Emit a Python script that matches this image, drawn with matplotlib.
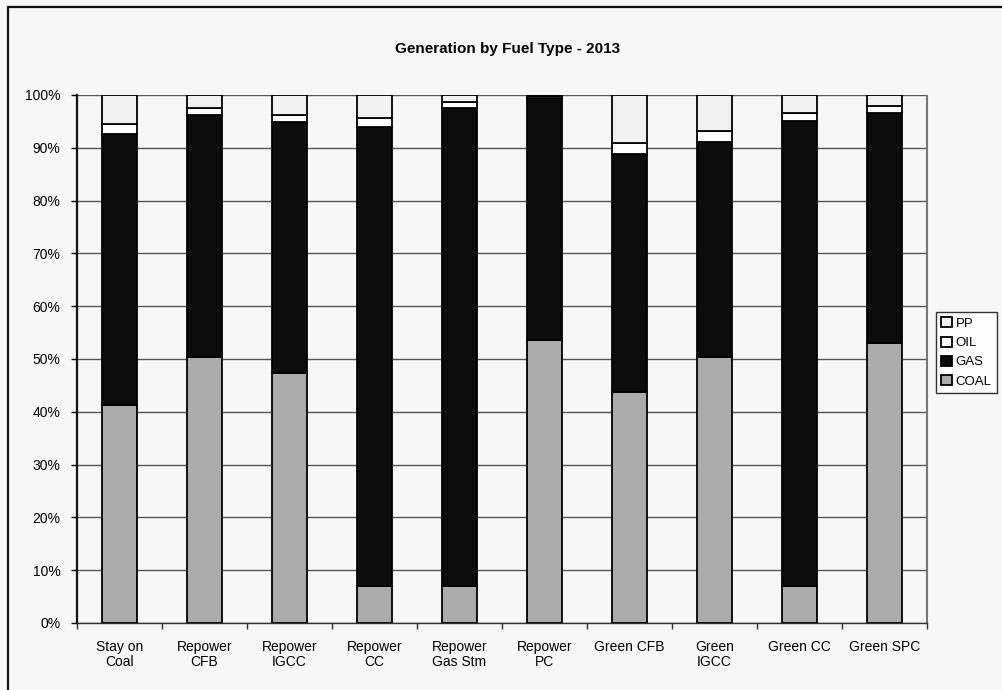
import matplotlib
matplotlib.use("Agg")
import matplotlib.pyplot as plt
from matplotlib.lines import Line2D
from matplotlib.ticker import FixedLocator, FuncFormatter
import numpy as np

plt.rcParams['font.family'] = ['Liberation Sans', 'DejaVu Sans']

# Scenarios and generation shares (%) by fuel type, 2013
categories = ["Stay on\nCoal", "Repower\nCFB", "Repower\nIGCC", "Repower\nCC",
              "Repower\nGas Stm", "Repower\nPC", "Green CFB", "Green\nIGCC",
              "Green CC", "Green SPC"]
coal = [41.3, 50.4, 47.4, 7.0, 7.0, 53.6, 43.8, 50.3, 7.0, 53.0]
gas = [51.3, 45.8, 47.4, 86.9, 90.5, 45.9, 45.0, 40.8, 88.0, 43.6]
oil = [1.9, 1.3, 1.5, 1.7, 1.2, 0.3, 2.2, 2.1, 1.5, 1.4]
pp = [5.5, 2.5, 3.7, 4.4, 1.3, 0.2, 9.0, 6.8, 3.5, 2.0]
y_ticks = list(range(0, 101, 10))

bg = '#f7f7f7'
fig = plt.figure(figsize=(10.02, 6.90), dpi=100, facecolor=bg)
ax = fig.add_axes([77 / 1002, 1 - 623 / 690, 850 / 1002, 528 / 690], facecolor=bg)

x = np.arange(len(categories))
w = 0.41
series = [("COAL", coal, '#ababab'), ("GAS", gas, '#0c0c0c'),
          ("OIL", oil, '#ffffff'), ("PP", pp, '#f1f1f1')]
bottom = np.zeros(len(categories))
handles = {}
for name, vals, col in series:
    vals = np.array(vals)
    bars = ax.bar(x, vals, w, bottom=bottom, color=col, edgecolor='black',
                  linewidth=1.3, zorder=3, label=name)
    handles[name] = bars
    bottom += vals

ax.set_xlim(-0.5, len(categories) - 0.5)
ax.set_ylim(0, 100)
ax.yaxis.set_major_locator(FixedLocator(y_ticks))
ax.yaxis.set_major_formatter(FuncFormatter(lambda v, p: f"{int(v)}%"))
ax.grid(axis='y', color='#555555', linewidth=1.0, zorder=0)
ax.set_axisbelow(True)

ax.set_xticks(x)
ax.set_xticklabels(categories, fontsize=10, linespacing=1.1)
ax.set_xticks(np.arange(len(categories) + 1) - 0.5, minor=True)
ax.tick_params(axis='x', which='major', length=0, pad=12)
ax.tick_params(axis='x', which='minor', length=4, width=1, direction='out', color='#333333')
ax.tick_params(axis='y', length=4, width=1, direction='out', labelsize=10, pad=8)

ax.spines['left'].set_linewidth(1.6)
ax.spines['left'].set_color('#111111')
ax.spines['bottom'].set_linewidth(1.0)
ax.spines['bottom'].set_color('#333333')
ax.spines['top'].set_visible(False)
ax.spines['right'].set_color('#777777')
ax.spines['right'].set_linestyle((0, (1, 1)))
ax.spines['right'].set_linewidth(1.5)

fig.text(508 / 1002, 1 - 49 / 690, "Generation by Fuel Type - 2013",
         ha='center', va='center', fontsize=11, fontweight='bold')

order = ["PP", "OIL", "GAS", "COAL"]
leg = fig.legend([handles[n] for n in order], order, loc='upper left',
                 bbox_to_anchor=(936 / 1002, 1 - 312 / 690),
                 bbox_transform=fig.transFigure, fontsize=9.5,
                 handlelength=0.8, handleheight=0.8, handletextpad=0.3,
                 labelspacing=0.5, borderpad=0.4, borderaxespad=0,
                 frameon=True, fancybox=False, facecolor='#ffffff',
                 edgecolor='black')
leg.get_frame().set_linewidth(1.0)

# outer chart border
fig.add_artist(Line2D([8 / 1002, 8 / 1002, 1.0], [0.0, 1 - 7 / 690, 1 - 7 / 690],
                      transform=fig.transFigure, color='#111111', linewidth=1.6))

fig.savefig("out.png", dpi=100, facecolor=bg)
